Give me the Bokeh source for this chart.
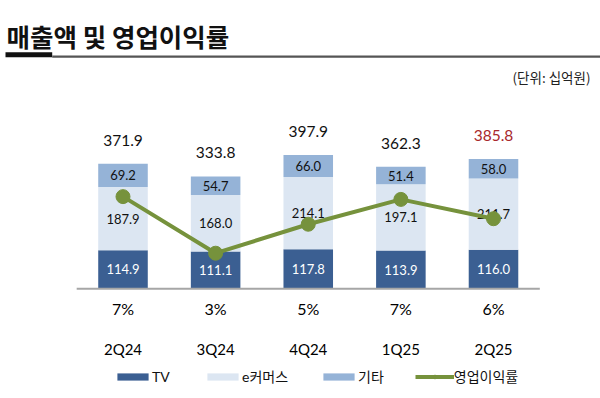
from bokeh.plotting import figure
from bokeh.models import Range1d, Legend, LegendItem, Label, BoxAnnotation, ColumnDataSource
from bokeh.core.properties import value
from bokeh.embed import file_html
from bokeh.resources import INLINE

# ---- data ----
quarters = ["2Q24", "3Q24", "4Q24", "1Q25", "2Q25"]
tv = [114.9, 111.1, 117.8, 113.9, 116.0]
ecom = [187.9, 168.0, 214.1, 197.1, 211.7]
other = [69.2, 54.7, 66.0, 51.4, 58.0]
total_labels = ["371.9", "333.8", "397.9", "362.3", "385.8"]
margin = [7.2, 3.1, 5.2, 7.0, 5.6]
margin_labels = ["7%", "3%", "5%", "7%", "6%"]
series_names = ["TV", "e커머스", "기타"]
line_name = "영업이익률"
title_text = "매출액 및 영업이익률"
unit_text = "(단위:  십억원)"

# ---- styles ----
C_TV = "#3B5F92"
C_EC = "#DCE6F2"
C_OT = "#95B3D7"
C_LINE = "#76923C"
C_RED = "#A8282C"
NUM_FONT = "Lato"
KR_FONT = "Noto Sans CJK KR"
MIX_FONT = "Lato, 'Noto Sans CJK KR'"

n = len(quarters)
xs = list(range(n))
stack_top = [a + b + c for a, b, c in zip(tv, ecom, other)]
src = ColumnDataSource(dict(
    x=xs, q=quarters, tv=tv, ecom=ecom, other=other,
    tv_mid=[a / 2 for a in tv],
    ec_mid=[a + b / 2 for a, b in zip(tv, ecom)],
    ot_mid=[a + b + c / 2 for a, b, c in zip(tv, ecom, other)],
    tv_lab=[f"{v:.1f}" for v in tv],
    ec_lab=[f"{v:.1f}" for v in ecom],
    ot_lab=[f"{v:.1f}" for v in other],
    top=stack_top, total_lab=total_labels,
    total_col=["#111111"] * (n - 1) + [C_RED],
    margin=margin, mlab=margin_labels,
    zero=[0] * n,
))

p = figure(x_range=Range1d(-1.3225, n - 1 + 1.1552), y_range=Range1d(-326.0, 856.8),
           width=600, height=398, output_backend="svg", toolbar_location=None,
           x_axis_type=None, y_axis_type=None, min_border=0)
p.extra_y_ranges = {"pct": Range1d(-7.428, 21.413)}
p.grid.visible = False
p.outline_line_color = None

bars = p.vbar_stack(["tv", "ecom", "other"], x="x", width=0.535, source=src,
                    color=[C_TV, C_EC, C_OT], line_color=None)

# baseline (category axis line)
p.segment(x0=xs[0] - 0.5, x1=xs[-1] + 0.5, y0=0, y1=0, line_color="#A6A6A6", line_width=2)

# segment labels
for ycol, tcol, col in (("tv_mid", "tv_lab", "white"), ("ec_mid", "ec_lab", "#111111"),
                        ("ot_mid", "ot_lab", "#111111")):
    p.text(x="x", y=ycol, text=tcol, source=src, text_color=col,
           text_font=value(NUM_FONT), text_font_size="13px",
           text_align="center", text_baseline="middle")
p.text(x="x", y="top", text="total_lab", source=src, text_color="total_col", y_offset=-23.5,
       text_font=value(NUM_FONT), text_font_size="15.5px", text_align="center", text_baseline="middle")

# margin line
ln = p.line(x="x", y="margin", source=src, y_range_name="pct", line_color=C_LINE, line_width=4)
sc = p.scatter(x="x", y="margin", source=src, y_range_name="pct", size=14,
               fill_color=C_LINE, line_color=C_LINE)

# margin labels under baseline
p.text(x="x", y="zero", text="mlab", source=src, text_color="#000000", y_offset=19.2,
       text_font=value(NUM_FONT), text_font_size="16px", text_align="center", text_baseline="middle")
# category labels
p.text(x="x", y="zero", text="q", source=src, text_color="#000000", y_offset=59.7,
       text_font=value(NUM_FONT), text_font_size="15px", text_align="center", text_baseline="middle")

# legend
items = [LegendItem(label=series_names[i], renderers=[bars[i]]) for i in range(3)]
items.append(LegendItem(label=line_name, renderers=[ln, sc]))
legend = Legend(items=items, orientation="horizontal", location=(113, 12),
                glyph_width=39, glyph_height=9, label_standoff=0, spacing=31,
                padding=0, margin=0, border_line_color=None, background_fill_alpha=0,
                label_text_font=MIX_FONT, label_text_font_size="14px",
                label_text_color="#111111")
p.add_layout(legend)

# header
p.add_layout(Label(x=6, y=363, x_units="screen", y_units="screen", text=title_text,
                   text_font=KR_FONT, text_font_size="25.5px", text_font_style="bold",
                   text_color="#111111", text_baseline="middle"))
p.add_layout(BoxAnnotation(left=5, right=51.7, bottom=341.3, top=346.3,
                           left_units="screen", right_units="screen",
                           bottom_units="screen", top_units="screen",
                           fill_color="#111111", fill_alpha=1, line_color=None))
p.add_layout(BoxAnnotation(left=51.7, right=600, bottom=340.7, top=343,
                           left_units="screen", right_units="screen",
                           bottom_units="screen", top_units="screen",
                           fill_color="#555555", fill_alpha=1, line_color=None))
p.add_layout(Label(x=593, y=321.3, x_units="screen", y_units="screen", text=unit_text,
                   text_font=KR_FONT, text_font_size="13.5px", text_align="right",
                   text_color="#222222", text_baseline="middle"))

open("out.html", "w").write(file_html(p, INLINE))
